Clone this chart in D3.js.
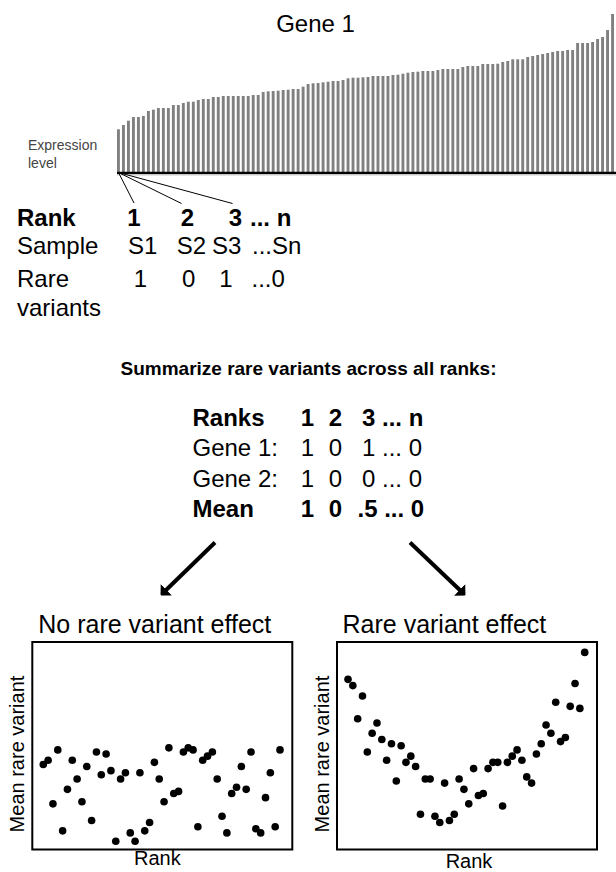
<!DOCTYPE html>
<html>
<head>
<meta charset="utf-8">
<script src="https://cdn.jsdelivr.net/npm/d3@7"></script>
<style>
	body { margin: 0; background: #fff; }
	svg { display: block; font-family: 'Liberation Sans', Arial, Helvetica, sans-serif; }
</style>
</head>
<body>
<div id="chart"></div>
<script>
// Gene 1 expression per sample, already sorted low -> high (rank order)
const expression = [
	43.2, 47.5, 51.8, 55.5, 55.5, 56.5, 61.5, 62.8, 64.5, 64.5,
	64.5, 67.5, 67.5, 69.5, 70.8, 70.8, 72.5, 73.5, 73.5, 75.5,
	75.5, 76.5, 76.5, 76.5, 76.5, 76.5, 76.5, 77.5, 77.5, 80.5,
	81.2, 81.5, 81.8, 82.5, 82.8, 83.5, 83.5, 85.8, 88.5, 89.2,
	89.5, 90.2, 90.8, 91.5, 91.5, 92.5, 94.2, 94.8, 94.8, 95.2,
	95.5, 96.5, 96.5, 96.5, 96.5, 97.5, 97.8, 98.8, 99.8, 100.5,
	100.8, 101.5, 101.5, 101.5, 102.5, 103.5, 103.5, 103.5, 103.5, 105.5,
	106.5, 106.5, 106.5, 108.5, 108.5, 108.5, 108.8, 110.5, 111.5, 113.2,
	113.2, 113.2, 115.5, 116.5, 117.5, 118.5, 119.5, 120.5, 121.5, 121.5,
	122.5, 122.5, 129.5, 129.5, 129.5, 130.5, 133.5, 135.5, 142.5, 158.5
];

// per-rank table under the bars
const rankHeader = ['1', '2', '3', '... n'];
const sampleIds = ['S1', 'S2', 'S3', '...Sn'];
const rareVariants = ['1', '0', '1', '...0'];

// summary table
const summaryHeader = ['1', '2', '3 ... n'];
const gene1Variants = ['1', '0', '1 ... 0'];
const gene2Variants = ['1', '0', '0 ... 0'];
const meanVariants = ['1', '0', '.5 ... 0'];

// mean rare variant per rank (50 ranks), scaled 0..1
const noEffectMeans = [
	0.41, 0.43, 0.22, 0.48, 0.09, 0.29, 0.43, 0.34, 0.23, 0.40,
	0.14, 0.47, 0.36, 0.46, 0.38, 0.04, 0.34, 0.37, 0.08, 0.04,
	0.37, 0.09, 0.13, 0.42, 0.34, 0.23, 0.49, 0.27, 0.28, 0.47,
	0.49, 0.48, 0.11, 0.43, 0.45, 0.47, 0.34, 0.16, 0.08, 0.27,
	0.30, 0.40, 0.29, 0.47, 0.10, 0.08, 0.25, 0.37, 0.11, 0.48
];
const effectMeans = [
	0.82, 0.79, 0.63, 0.74, 0.47, 0.56, 0.61, 0.53, 0.43, 0.51,
	0.33, 0.50, 0.42, 0.45, 0.40, 0.17, 0.34, 0.34, 0.16, 0.13,
	0.32, 0.14, 0.17, 0.34, 0.29, 0.22, 0.39, 0.26, 0.27, 0.39,
	0.42, 0.42, 0.21, 0.42, 0.45, 0.48, 0.43, 0.35, 0.32, 0.46,
	0.51, 0.60, 0.56, 0.71, 0.52, 0.54, 0.69, 0.80, 0.68, 0.95
];

const W = 616;
const H = 872;

const svg = d3.select('#chart').append('svg')
	.attr('width', W)
	.attr('height', H);

const addText = function(g, str, x, y, opts) {
	opts = opts || {};
	return g.append('text')
		.text(str)
		.attr('x', x)
		.attr('y', y)
		.attr('text-anchor', opts.anchor || 'start')
		.style('font-size', (opts.size || 24) + 'px')
		.style('font-weight', opts.bold ? 'bold' : 'normal')
		.style('fill', opts.fill || '#000');
};

// ---- bar chart of Gene 1 ----
const drawBars = function() {
	const base = 172.5;
	const x = d3.scaleBand()
		.domain(d3.range(expression.length))
		.range([117, 614])
		.paddingInner(0.42)
		.paddingOuter(0);
	const y = d3.scaleLinear()
		.domain([0, 160])
		.range([base, base - 160]);

	addText(svg, 'Gene 1', 315.5, 32, {anchor: 'middle', size: 24});

	svg.append('g')
		.selectAll('rect')
		.data(expression)
		.join('rect')
			.attr('x', (d, i) => x(i))
			.attr('y', d => y(d))
			.attr('width', x.bandwidth())
			.attr('height', d => base - y(d))
			.attr('fill', '#808080');

	svg.append('line')
		.attr('x1', 117).attr('x2', W)
		.attr('y1', base + 0.5).attr('y2', base + 0.5)
		.attr('stroke', '#000')
		.attr('stroke-width', 2.5);
	svg.append('line')
		.attr('x1', 117).attr('x2', W)
		.attr('y1', base + 2.5).attr('y2', base + 2.5)
		.attr('stroke', '#ccc')
		.attr('stroke-width', 1);

	addText(svg, 'Expression', 28, 150, {size: 14, fill: '#444'});
	addText(svg, 'level', 28, 168, {size: 14, fill: '#444'});

	// leader lines from the first bar to rank numbers
	const ends = [[134, 203], [181.5, 203.5], [232.5, 203.5]];
	svg.append('g')
		.selectAll('line')
		.data(ends)
		.join('line')
			.attr('x1', 118.5).attr('y1', base)
			.attr('x2', d => d[0]).attr('y2', d => d[1])
			.attr('stroke', '#000')
			.attr('stroke-width', 1);
};

// ---- rank / sample / rare variant table ----
const drawRankTable = function() {
	const g = svg.append('g');
	const rows = [
		{label: 'Rank', cells: rankHeader, y: 226, bold: true, xs: [134, 187.5, 235.5, 250]},
		{label: 'Sample', cells: sampleIds, y: 254, bold: false, xs: [142.7, 191.5, 226.7, 252]},
		{label: 'Rare', cells: rareVariants, y: 286.5, bold: false, xs: [140.5, 188.7, 226, 251.5]}
	];
	rows.forEach(r => {
		addText(g, r.label, 17, r.y, {bold: r.bold, size: 24});
		r.cells.forEach((c, i) => {
			const last = i === r.cells.length - 1;
			addText(g, c, r.xs[i], r.y, {bold: r.bold, size: 24, anchor: last ? 'start' : 'middle'});
		});
	});
	addText(g, 'variants', 17, 316, {size: 24});
};

// ---- summary table ----
const drawSummary = function() {
	const g = svg.append('g');
	addText(g, 'Summarize rare variants across all ranks:', 308.5, 375, {anchor: 'middle', size: 19, bold: true});

	const rows = [
		{label: 'Ranks', cells: summaryHeader, y: 426, bold: true, last: 362},
		{label: 'Gene 1:', cells: gene1Variants, y: 456, bold: false, last: 362},
		{label: 'Gene 2:', cells: gene2Variants, y: 486.5, bold: false, last: 362},
		{label: 'Mean', cells: meanVariants, y: 516.5, bold: true, last: 357.5}
	];
	rows.forEach(r => {
		addText(g, r.label, 192.5, r.y, {bold: r.bold, size: 24});
		addText(g, r.cells[0], 307.5, r.y, {bold: r.bold, size: 24, anchor: 'middle'});
		addText(g, r.cells[1], 335.5, r.y, {bold: r.bold, size: 24, anchor: 'middle'});
		addText(g, r.cells[2], r.last, r.y, {bold: r.bold, size: 24});
	});

	// arrows down to the two scenarios
	svg.append('defs').append('marker')
		.attr('id', 'head')
		.attr('markerUnits', 'userSpaceOnUse')
		.attr('viewBox', '0 -8 8 16')
		.attr('refX', 6)
		.attr('refY', 0)
		.attr('markerWidth', 8)
		.attr('markerHeight', 16)
		.attr('orient', 'auto')
		.append('path')
			.attr('d', 'M0,-8L8,0L0,8Z')
			.attr('fill', '#000');

	const arrows = [[[215, 542.5], [162, 594]], [[410, 542.5], [464, 594]]];
	svg.append('g')
		.selectAll('line')
		.data(arrows)
		.join('line')
			.attr('x1', d => d[0][0]).attr('y1', d => d[0][1])
			.attr('x2', d => d[1][0]).attr('y2', d => d[1][1])
			.attr('stroke', '#000')
			.attr('stroke-width', 4)
			.attr('marker-end', 'url(#head)');
};

// ---- scatter plot of mean rare variant by rank ----
const drawScatter = function(conf) {
	const box = {x: conf.left, y: 642, w: 260, h: 207.5};
	const g = svg.append('g');

	const x = d3.scaleLinear()
		.domain([1, conf.values.length])
		.range([box.x + 11, box.x + box.w - 12.3]);
	const y = d3.scaleLinear()
		.domain([0, 1])
		.range([box.y + box.h, box.y]);

	addText(g, conf.title, box.x + conf.titleDx, 633, {size: 25});

	g.append('rect')
		.attr('x', box.x).attr('y', box.y)
		.attr('width', box.w).attr('height', box.h)
		.attr('fill', 'none')
		.attr('stroke', '#000')
		.attr('stroke-width', 2);

	g.append('g')
		.selectAll('circle')
		.data(conf.values)
		.join('circle')
			.attr('cx', (d, i) => x(i + 1))
			.attr('cy', d => y(d))
			.attr('r', 3.8)
			.attr('fill', '#000');

	addText(g, 'Rank', box.x + box.w / 2 + conf.rankDx, conf.rankY, {anchor: 'middle', size: 20});

	addText(g, 'Mean rare variant', 0, 0, {anchor: 'middle', size: 20})
		.attr('transform', `translate(${box.x - 8.5},754) rotate(-90)`);
};

drawBars();
drawRankTable();
drawSummary();
drawScatter({left: 32.3, title: 'No rare variant effect', titleDx: 6, values: noEffectMeans, rankY: 865, rankDx: -5});
drawScatter({left: 337, title: 'Rare variant effect', titleDx: 5.5, values: effectMeans, rankY: 867.5, rankDx: 2});
</script>
</body>
</html>
